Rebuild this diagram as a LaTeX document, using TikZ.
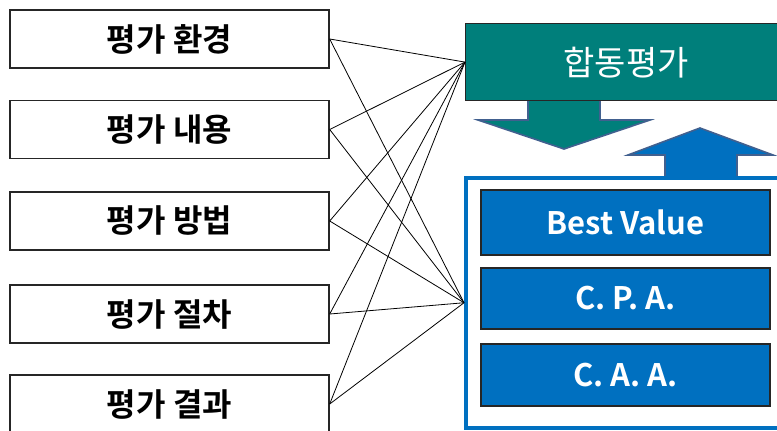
\documentclass[tikz,border=0pt]{standalone}
\usepackage{fontspec}
\newfontfamily\kr{Noto Sans CJK KR}[BoldFont={Noto Sans CJK KR Bold}]
\definecolor{tealc}{HTML}{007F7B}
\definecolor{bluec}{HTML}{0070C0}
\definecolor{arrowedge}{HTML}{41608F}
\tikzset{
  leftbox/.style={draw=black!85, line width=1.4pt, fill=white, minimum width=319pt, minimum height=58pt, inner sep=0pt, font=\kr\bfseries\fontsize{32}{34}\selectfont},
  innerbox/.style={draw=black!85, line width=1.4pt, fill=bluec, minimum width=289pt, inner sep=0pt, text=white, font=\kr\bfseries\fontsize{31}{33}\selectfont},
  link/.style={draw=black, line width=0.8pt},
  bigarrow/.style={draw=arrowedge, line width=1.6pt, line join=miter}
}
\begin{document}
\begin{tikzpicture}[x=1pt,y=-1pt]
\useasboundingbox (0,0) rectangle (777,431);
% left boxes
\node[leftbox] (e) at (169.5,39) {평가 환경};
\node[leftbox] (c) at (169.5,129.5) {평가 내용};
\node[leftbox] (m) at (169.5,221) {평가 방법};
\node[leftbox] (p) at (169.5,314) {평가 절차};
\node[leftbox] (r) at (169.5,404) {평가 결과};
% arrows
\draw[bigarrow, fill=tealc] (528,99) -- (600,99) -- (600,120) -- (650,120) -- (564,149) -- (478,120) -- (528,120) -- cycle;
\draw[bigarrow, fill=bluec] (665,181) -- (665,155) -- (628,155) -- (700,128) -- (773,155) -- (737,155) -- (737,181) -- cycle;
% green box
\node[draw=black!85, line width=1.2pt, fill=tealc, minimum width=325pt, minimum height=77pt, inner sep=0pt, anchor=north west] (g) at (465,23) {};
\node[text=white, font=\kr\fontsize{34}{36}\selectfont] (gt) at (626,63) {합동평가};
% blue frame
\node[draw=bluec, line width=3.5pt, fill=white, minimum width=330pt, minimum height=250pt, inner sep=0pt, anchor=north west] (f) at (464,176) {};
\node[innerbox, minimum height=65pt] (bv) at (625.5,222.5) {Best Value};
\node[innerbox, minimum height=61pt] (cpa) at (625.5,298.5) {C. P. A.};
\node[innerbox, minimum height=62pt] (caa) at (625.5,375) {C. A. A.};
% links
\foreach \s in {e,c,m,p,r}{
  \draw[link] (\s.east) -- (g.west);
  \draw[link] (\s.east) -- (f.west);
}
\end{tikzpicture}
\end{document}
